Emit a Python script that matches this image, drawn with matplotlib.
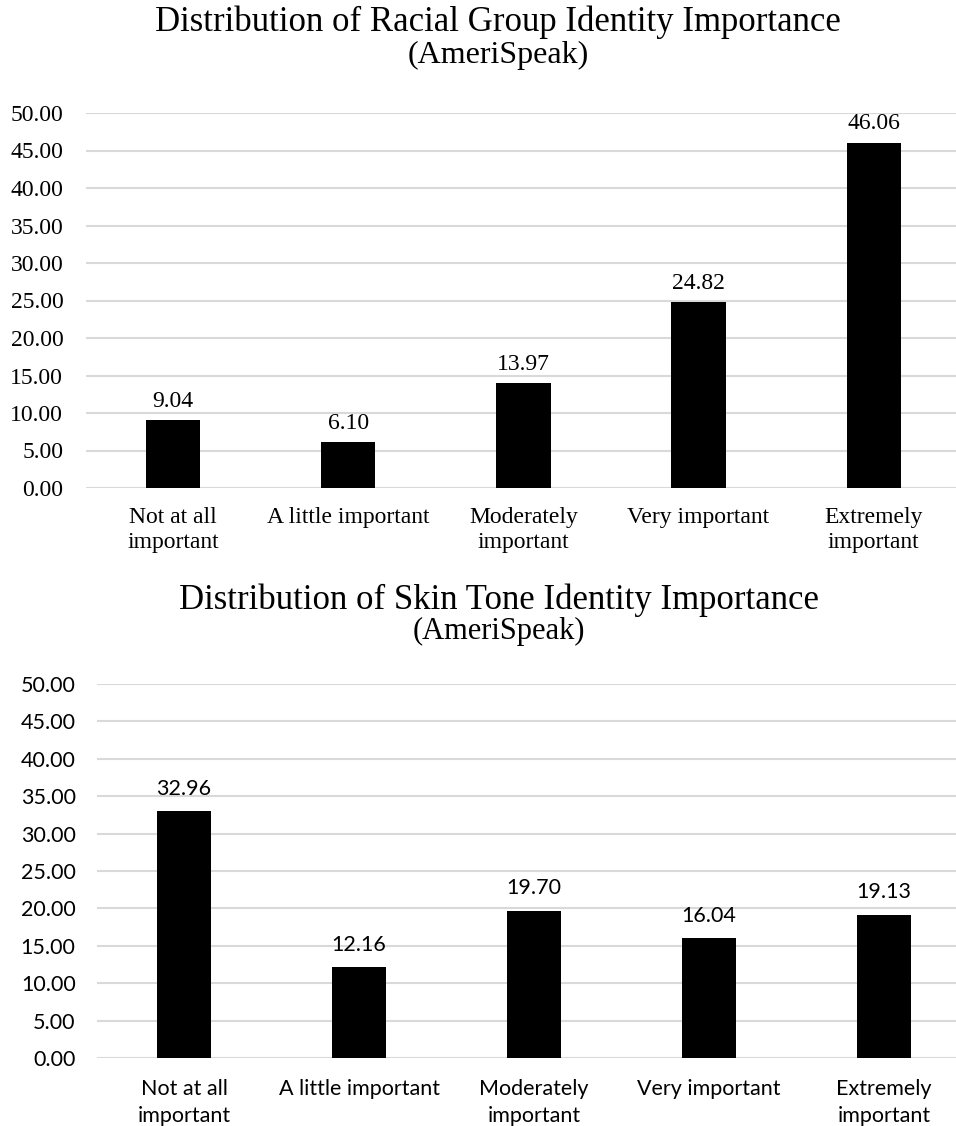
import numpy as np
import matplotlib

matplotlib.use('Agg')

import matplotlib.pyplot as plt

categories = ["Not at all\nimportant", "A little important", "Moderately\nimportant",
              "Very important", "Extremely\nimportant"]
racial_values = [9.04, 6.10, 13.97, 24.82, 46.06]
skin_values = [32.96, 12.16, 19.70, 16.04, 19.13]
yticks = np.arange(0, 51, 5)

W, H = 956, 1126
fig = plt.figure(figsize=(W / 100, H / 100), dpi=100)

grey = '#d9d9d9'
serif = 'Liberation Serif'
sans = 'Lato'


def px_axes(left, right, top, bottom):
    return fig.add_axes([left / W, 1 - bottom / H, (right - left) / W, (bottom - top) / H])


def draw_panel(ax, values, family, tick_size, xmax, ypad, xpad, lspace, voff):
    x = np.arange(len(values))
    ax.bar(x, values, width=0.31, color='black', zorder=3)
    ax.set_ylim(0, 50)
    ax.set_xlim(-0.5, xmax)
    ax.set_yticks(yticks)
    ax.set_yticklabels(['%.2f' % v for v in yticks], family=family, fontsize=tick_size)
    ax.set_xticks(x)
    ax.set_xticklabels(categories, family=family, fontsize=tick_size, linespacing=lspace)
    ax.tick_params(length=0)
    ax.tick_params(axis='y', pad=ypad)
    ax.tick_params(axis='x', pad=xpad)
    ax.yaxis.grid(color=grey, linewidth=1.5, zorder=0)
    for s in ax.spines.values():
        s.set_visible(False)
    for xi, v in zip(x, values):
        ax.annotate('%.2f' % v, (xi, v), xytext=(0, voff), textcoords='offset points',
                    ha='center', va='bottom', family=family, fontsize=tick_size)


ax1 = px_axes(85.5, 956, 113, 488)
draw_panel(ax1, racial_values, serif, 17, 4.47, 16, 14, 1.25, 6)

ax2 = px_axes(96.5, 956, 684, 1058)
draw_panel(ax2, skin_values, sans, 15.5, 4.41, 15, 15, 1.45, 9)

fig.text(498 / W, 1 - 22 / H, "Distribution of Racial Group Identity Importance",
         ha='center', va='center', family=serif, fontsize=25)
fig.text(498 / W, 1 - 55 / H, "(AmeriSpeak)", ha='center', va='center', family=serif, fontsize=23)
fig.text(499 / W, 1 - 600 / H, "Distribution of Skin Tone Identity Importance",
         ha='center', va='center', family=serif, fontsize=25)
fig.text(499 / W, 1 - 631 / H, "(AmeriSpeak)", ha='center', va='center', family=serif, fontsize=22)

fig.savefig('out.png', dpi=100)
